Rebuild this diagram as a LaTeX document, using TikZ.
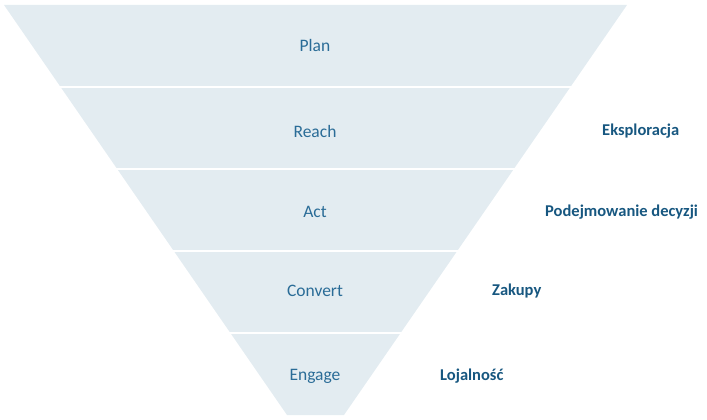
\documentclass[tikz,border=0pt]{standalone}
\usepackage{fontspec}
\setmainfont{Carlito}
\definecolor{funnelfill}{HTML}{E3ECF1}
\definecolor{stagetext}{HTML}{2A6C97}
\definecolor{phasetext}{HTML}{175780}
\tikzset{
  stage/.style={text=stagetext, font=\fontsize{17.5}{20}\selectfont, inner sep=0pt},
  phase/.style={text=phasetext, font=\bfseries\fontsize{16.5}{20}\selectfont, inner sep=0pt, anchor=west},
}
\begin{document}
\begin{tikzpicture}[x=1pt,y=-1pt]
		\useasboundingbox (0,0) rectangle (707,420);
		% funnel
		\fill [funnelfill] (4,5) -- (627,5) -- (344,415) -- (287,415) -- cycle;
		% gaps between the bands
		\foreach \y in {87,169,251,333}
			\draw [white, line width=2pt] (0,\y) -- (707,\y);

		% stages
		\node[stage] (plan) at (315,45) {Plan};
		\node[stage] (reach) at (315,131) {Reach};
		\node[stage] (act) at (315,212) {Act};
		\node[stage] (convert) at (315,291) {Convert};
		\node[stage] (engage) at (315,376) {Engage};

		% phases
		\node[phase] (eksploracja) at (602,131) {Eksploracja};
		\node[phase] (decyzje) at (545,212) {Podejmowanie decyzji};
		\node[phase] (zakupy) at (492,291) {Zakupy};
		\node[phase] (lojalnosc) at (440,376) {Lojalność};
	\end{tikzpicture}
\end{document}
